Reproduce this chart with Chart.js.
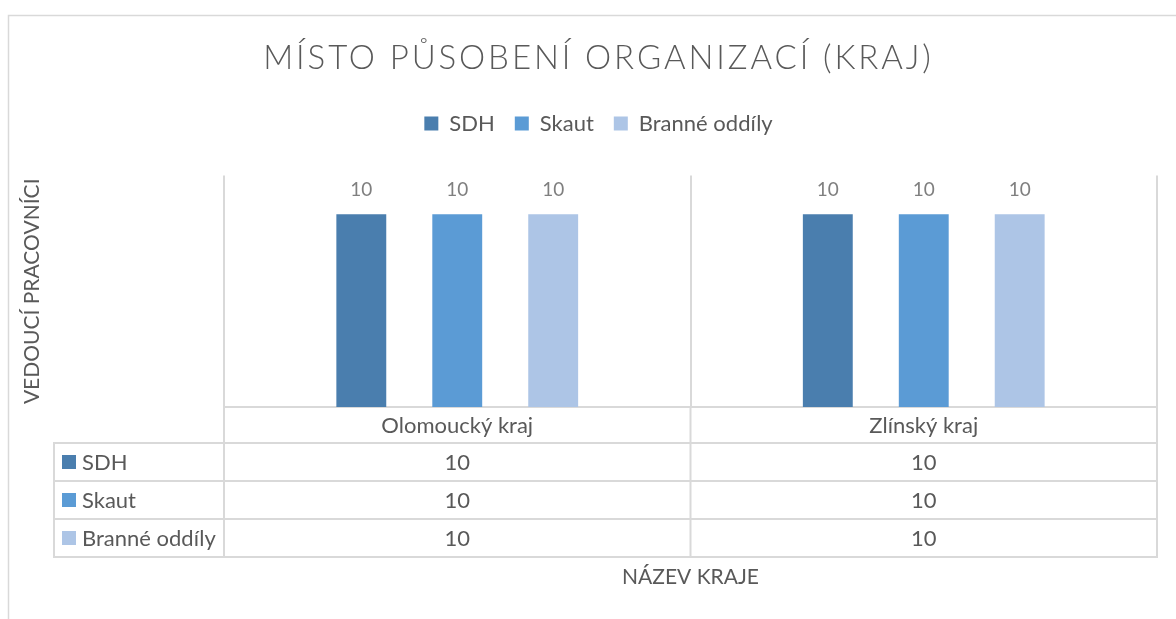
<!DOCTYPE html>
<html><head><meta charset="utf-8">
<script src="https://cdn.jsdelivr.net/npm/chart.js@4.4.1/dist/chart.umd.min.js"></script>
<style>html,body{margin:0;padding:0;background:#fff;}canvas{display:block;}</style>
</head><body>
<canvas id="c" width="1176" height="619"></canvas>
<script>
const categories = ['Olomoucký kraj', 'Zlínský kraj'];
const seriesNames = ['SDH', 'Skaut', 'Branné oddíly'];
const sdhValues = [10, 10];
const skautValues = [10, 10];
const branneValues = [10, 10];
const seriesColors = ['#4a7eae', '#5b9bd5', '#adc5e6'];
const chartTitle = 'MÍSTO PŮSOBENÍ ORGANIZACÍ (KRAJ)';
const xTitle = 'NÁZEV KRAJE';
const yTitle = 'VEDOUCÍ PRACOVNÍCI';

const seriesValues = [sdhValues, skautValues, branneValues];
const TEXT = '#595959';
const LINE = '#d9d9d9';
const FONT = 'Lato';
Chart.defaults.font.family = FONT;
Chart.defaults.color = TEXT;

const framePlugin = {
  id: 'frame',
  beforeDraw(chart) {
    const c = chart.ctx;
    c.save();
    c.fillStyle = '#fff';
    c.fillRect(0, 0, chart.width, chart.height);
    c.strokeStyle = LINE;
    c.lineWidth = 1.5;
    c.beginPath();
    c.moveTo(8.5, chart.height);
    c.lineTo(8.5, 15.5);
    c.lineTo(chart.width, 15.5);
    c.stroke();
    c.restore();
  }
};

const valueLabels = {
  id: 'valueLabels',
  afterDatasetsDraw(chart) {
    const c = chart.ctx;
    c.save();
    c.font = '19px ' + FONT;
    c.fillStyle = '#7f7f7f';
    c.textAlign = 'center';
    c.textBaseline = 'middle';
    chart.data.datasets.forEach((ds, i) => {
      chart.getDatasetMeta(i).data.forEach((bar, j) => {
        c.fillText(String(ds.data[j]), bar.x, bar.y - 24);
      });
    });
    c.restore();
  }
};

const dataTable = {
  id: 'dataTable',
  afterDraw(chart) {
    const c = chart.ctx;
    const xs = chart.scales.x;
    const area = chart.chartArea;
    const n = categories.length;
    const step = n > 1 ? xs.getPixelForValue(1) - xs.getPixelForValue(0) : (xs.right - xs.left);
    const centers = categories.map((_, j) => xs.getPixelForValue(j));
    const bounds = centers.map(cx => cx - step / 2).concat([centers[n - 1] + step / 2]);
    const tableLeft = 54;
    const headerTop = area.bottom;
    const headerH = 36;
    const rowH = 38;
    const bodyTop = headerTop + headerH;
    const tableBottom = bodyTop + rowH * seriesNames.length;
    const right = bounds[bounds.length - 1];

    c.save();
    c.strokeStyle = LINE;
    c.lineWidth = 2;
    c.beginPath();
    for (let r = 0; r <= seriesNames.length; r++) {
      const y = bodyTop + r * rowH;
      c.moveTo(tableLeft, y);
      c.lineTo(right + 1, y);
    }
    c.moveTo(tableLeft, bodyTop - 1);
    c.lineTo(tableLeft, tableBottom + 1);
    bounds.forEach(bx => {
      c.moveTo(bx, headerTop);
      c.lineTo(bx, tableBottom + 1);
    });
    c.stroke();

    c.font = '22px ' + FONT;
    c.fillStyle = TEXT;
    c.textBaseline = 'middle';
    c.textAlign = 'center';
    categories.forEach((cat, j) => c.fillText(cat, centers[j], headerTop + headerH / 2 + 1));
    seriesNames.forEach((name, r) => {
      const cy = bodyTop + r * rowH + rowH / 2;
      c.fillStyle = seriesColors[r];
      c.fillRect(tableLeft + 8, cy - 7, 14, 14);
      c.fillStyle = TEXT;
      c.textAlign = 'left';
      c.fillText(name, tableLeft + 28, cy + 1);
      c.textAlign = 'center';
      seriesValues[r].forEach((v, j) => c.fillText(String(v), centers[j], cy + 1));
    });
    c.restore();
  }
};

const config = {
  type: 'bar',
  data: {
    labels: categories,
    datasets: seriesNames.map((name, i) => ({
      label: name,
      data: seriesValues[i],
      backgroundColor: seriesColors[i],
      borderWidth: 0,
      categoryPercentage: 0.617,
      barPercentage: 0.52
    }))
  },
  options: {
    responsive: false,
    animation: false,
    events: [],
    layout: { padding: { top: 10, left: 40, right: 19, bottom: 10 } },
    plugins: {
      tooltip: { enabled: false },
      title: {
        display: true,
        text: chartTitle,
        color: TEXT,
        font: { family: FONT, size: 33, weight: '300', lineHeight: 1.2 },
        padding: { top: 29, bottom: 14 }
      },
      legend: {
        display: true,
        position: 'top',
        labels: {
          color: TEXT,
          font: { family: FONT, size: 22 },
          boxWidth: 14,
          boxHeight: 14,
          padding: 20
        }
      }
    },
    scales: {
      x: {
        display: true,
        offset: true,
        ticks: { display: false },
        grid: { display: true, offset: true, drawTicks: false, color: LINE, lineWidth: 2 },
        border: { display: true, color: LINE, width: 2 },
        title: {
          display: true, text: xTitle, color: TEXT,
          font: { family: FONT, size: 21, lineHeight: 1.2 },
          padding: { top: 157.4, bottom: 19.4 }
        }
      },
      y: {
        display: true,
        min: 0,
        max: 12,
        ticks: { display: false },
        grid: { display: false, drawTicks: false },
        border: { display: false },
        title: {
          display: true, text: yTitle, color: TEXT,
          font: { family: FONT, size: 21, lineHeight: 1.2 },
          padding: { top: -20.6, bottom: 179.4 }
        }
      }
    }
  },
  plugins: [framePlugin, valueLabels, dataTable]
};

const chart = new Chart(document.getElementById('c'), config);

// wider tracking for the title, extra gap under the legend
const tb = chart.titleBlock;
if (tb) {
  const origDraw = tb.draw;
  tb.draw = function (area) {
    const c = this.ctx;
    c.save();
    c.letterSpacing = '2.9px';
    origDraw.call(this, area);
    c.restore();
  };
}
const lg = chart.legend;
if (lg) {
  const origFit = lg.fit;
  lg.fit = function () {
    origFit.call(this);
    this.height += 31;
  };
}
chart.update();
</script>
</body></html>
